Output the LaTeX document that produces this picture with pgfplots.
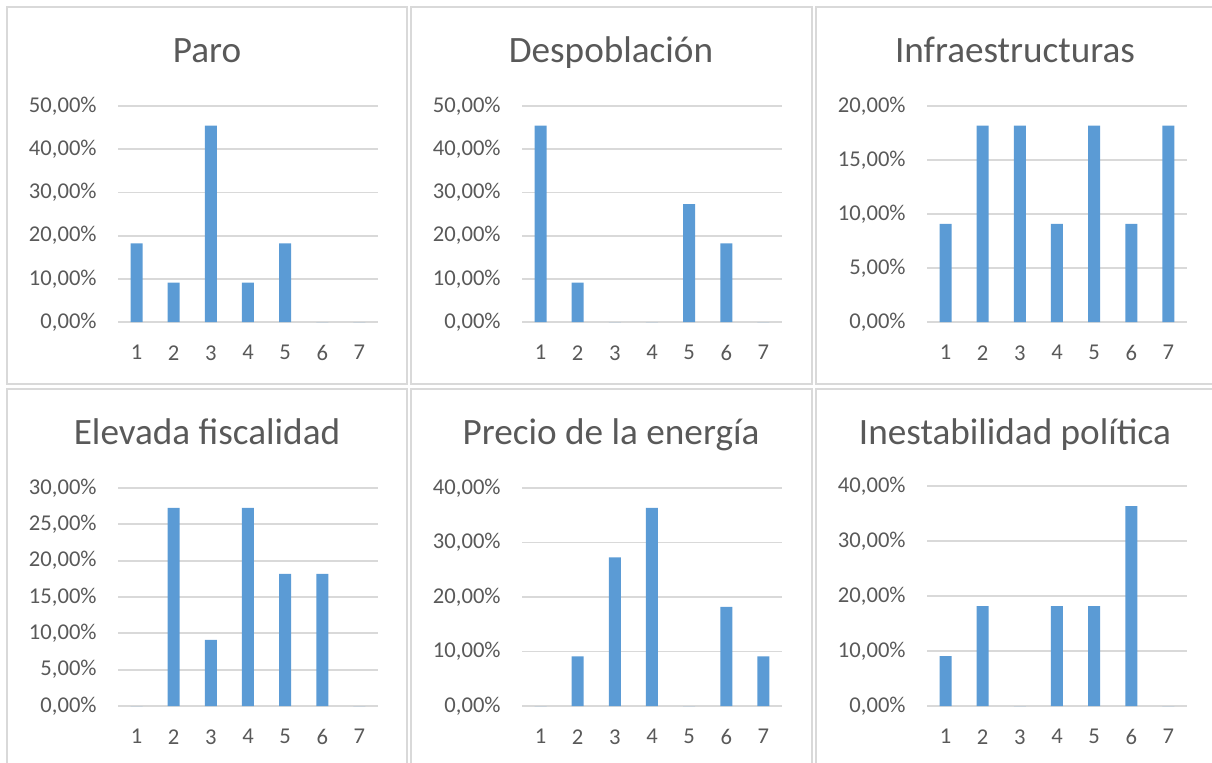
\documentclass[border=0pt]{standalone}
\usepackage{fontspec}
\setmainfont{Carlito}
\usepackage{pgfplots}
\pgfplotsset{compat=1.18}

\definecolor{barblue}{HTML}{5B9BD5}
\definecolor{gridgray}{HTML}{D9D9D9}
\definecolor{txt}{HTML}{595959}

\pgfplotsset{
  panel/.style={
    scale only axis, width=130pt, anchor=south west,
    xmin=0.5, xmax=7.5, ymin=0,
    xtick={1,...,7}, xticklabels={1,2,3,4,5,6,7},
    axis x line*=bottom, axis y line*=left,
    axis line style={draw=none},
    major tick length=0pt,
    ymajorgrids, grid style={gridgray, line width=0.9pt},
    ticklabel style={font=\fontsize{11.3}{13}\selectfont, text=txt, inner sep=0pt},
    xticklabel style={anchor=north, yshift=-11.5pt},
    yticklabel style={anchor=east, xshift=-10.5pt},
    ybar, bar width=6pt, clip=false,
  },
  pct50/.style={ymax=50, ytick={0,10,...,50},
    yticklabels={{0,00\%},{10,00\%},{20,00\%},{30,00\%},{40,00\%},{50,00\%}}},
  pct40/.style={ymax=40, ytick={0,10,...,40},
    yticklabels={{0,00\%},{10,00\%},{20,00\%},{30,00\%},{40,00\%}}},
  pct30/.style={ymax=30, ytick={0,5,...,30},
    yticklabels={{0,00\%},{5,00\%},{10,00\%},{15,00\%},{20,00\%},{25,00\%},{30,00\%}}},
  pct20/.style={ymax=20, ytick={0,5,...,20},
    yticklabels={{0,00\%},{5,00\%},{10,00\%},{15,00\%},{20,00\%}}},
  bars/.style={fill=barblue, draw=none},
}

\begin{document}
\begin{tikzpicture}
\useasboundingbox (0,0) rectangle (606pt,-381pt);

% panel frames
\begin{scope}[draw=gridgray, line width=1pt]
  \draw (3.5pt,-3.5pt) rectangle (203.5pt,-192pt);
  \draw (205.5pt,-3.5pt) rectangle (406pt,-192pt);
  \draw (408pt,-3.5pt) rectangle (610pt,-192pt);
  \draw (3.5pt,-194.5pt) rectangle (203.5pt,-390pt);
  \draw (205.5pt,-194.5pt) rectangle (406pt,-390pt);
  \draw (408pt,-194.5pt) rectangle (610pt,-390pt);
\end{scope}

% titles
\begin{scope}[every node/.style={anchor=base, text=txt, font=\fontsize{18.6}{22}\selectfont}]
  \node at (103.5pt,-31pt) {Paro};
  \node at (305.5pt,-31pt) {Despoblación};
  \node at (507.5pt,-31pt) {Infraestructuras};
  \node at (103.5pt,-222pt) {Elevada fiscalidad};
  \node at (305.5pt,-222pt) {Precio de la energía};
  \node at (507.5pt,-222pt) {Inestabilidad política};
\end{scope}

% Paro
\begin{axis}[panel, pct50, at={(59pt,-161pt)}, height=108pt]
\addplot[bars] coordinates {(1,18.18)(2,9.09)(3,45.45)(4,9.09)(5,18.18)(6,0)(7,0)};
\end{axis}

% Despoblación
\begin{axis}[panel, pct50, at={(261pt,-161pt)}, height=108pt]
\addplot[bars] coordinates {(1,45.45)(2,9.09)(3,0)(4,0)(5,27.27)(6,18.18)(7,0)};
\end{axis}

% Infraestructuras
\begin{axis}[panel, pct20, at={(463.5pt,-161pt)}, height=108pt]
\addplot[bars] coordinates {(1,9.09)(2,18.18)(3,18.18)(4,9.09)(5,18.18)(6,9.09)(7,18.18)};
\end{axis}

% Elevada fiscalidad
\begin{axis}[panel, pct30, at={(59pt,-353pt)}, height=109pt]
\addplot[bars] coordinates {(1,0)(2,27.27)(3,9.09)(4,27.27)(5,18.18)(6,18.18)(7,0)};
\end{axis}

% Precio de la energía
\begin{axis}[panel, pct40, at={(261pt,-353pt)}, height=109pt]
\addplot[bars] coordinates {(1,0)(2,9.09)(3,27.27)(4,36.36)(5,0)(6,18.18)(7,9.09)};
\end{axis}

% Inestabilidad política
\begin{axis}[panel, pct40, at={(463.5pt,-353pt)}, height=110pt]
\addplot[bars] coordinates {(1,9.09)(2,18.18)(3,0)(4,18.18)(5,18.18)(6,36.36)(7,0)};
\end{axis}
\end{tikzpicture}
\end{document}
